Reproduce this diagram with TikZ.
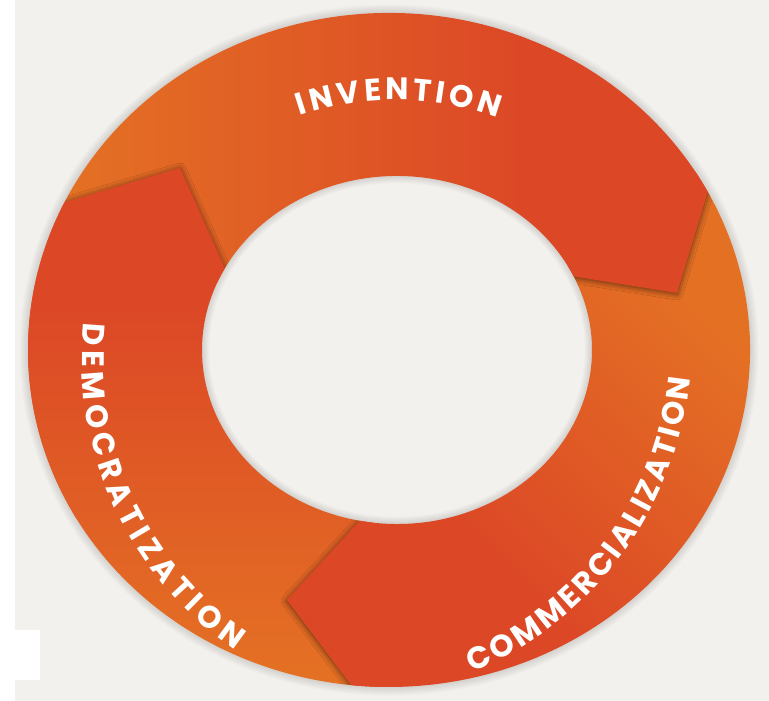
\documentclass[tikz,border=0pt]{standalone}
\usepackage{fontspec}
\setmainfont{Poppins}
\usetikzlibrary{decorations.text,shadows.blur,fadings}
\definecolor{bgc}{RGB}{243,241,238}
\definecolor{orng}{RGB}{228,112,36}
\definecolor{redo}{RGB}{220,72,38}
\pgfdeclarehorizontalshading{segsh}{100bp}{color(0bp)=(orng); color(28bp)=(orng); color(60bp)=(redo); color(100bp)=(redo)}
\newcommand\ringfont{\fontsize{31}{31}\selectfont\bfseries}
\tikzset{
  lbl/.style={decorate, decoration={text along path, text={|\ringfont|#1}, text align={fit to path}, text color=white}},
  hshadow/.style={blur shadow={shadow xshift=0pt, shadow yshift=-1pt, shadow blur radius=6pt, shadow opacity=60}},
  outerarc/.style={x radius=361pt, y radius=337pt},
  innerarc/.style={x radius=195pt, y radius=174pt},
  invsh/.style={shading=segsh, shading angle=0},
  comsh/.style={shading=segsh, shading angle=225},
  demsh/.style={shading=segsh, shading angle=90}
}
\begin{document}
\begin{tikzpicture}[x=1pt,y=1pt]
\useasboundingbox (0,0) rectangle (769,701);
\fill[bgc] (0,0) rectangle (769,701);
\fill[white] (0,0) rectangle (15,701);
\fill[white] (15,21) rectangle (40,71);

\coordinate (CO) at (389,351);
\coordinate (CI) at (397,351);
% head corners
\coordinate (dO) at ([shift={(CO)}]154:361pt and 337pt);
\coordinate (dI) at ([shift={(CI)}]152:195pt and 174pt);
\coordinate (dT) at (180,533);
\coordinate (iO) at ([shift={(CO)}]28:361pt and 337pt);
\coordinate (iI) at ([shift={(CI)}]25:195pt and 174pt);
\coordinate (iT) at (677,408);
\coordinate (cO) at ([shift={(CO)}]-96:361pt and 337pt);
\coordinate (cI) at ([shift={(CI)}]-101:195pt and 174pt);
\coordinate (cT) at (287,101);
% backs of heads (inside own body)
\coordinate (dOb) at ([shift={(CO)}]-150:361pt and 337pt);
\coordinate (iOb) at ([shift={(CO)}]32:361pt and 337pt);
\coordinate (cOb) at ([shift={(CO)}]-92:361pt and 337pt);

% soft glow around ring
\foreach \k in {1,...,6}{
  \pgfmathsetmacro\rox{361+1.4*\k}
  \pgfmathsetmacro\roy{337+1.4*\k}
  \pgfmathsetmacro\rix{195-1.2*\k}
  \pgfmathsetmacro\riy{174-1.2*\k}
  \fill[black, opacity=0.018, even odd rule]
    (CO) ellipse[x radius=\rox pt, y radius=\roy pt]
    (CI) ellipse[x radius=\rix pt, y radius=\riy pt];
}

% bodies
\begin{scope}
  \clip (dO) arc[start angle=154, end angle=28, outerarc] -- (iI)
        arc[start angle=25, end angle=152, innerarc] -- cycle;
  \shade[invsh] (30,380) rectangle (730,701);
\end{scope}
\begin{scope}
  \clip (iO) arc[start angle=28, end angle=-96, outerarc] -- (cI)
        arc[start angle=-101, end angle=25, innerarc] -- cycle;
  \shade[comsh] (280,0) rectangle (760,520);
\end{scope}
\begin{scope}
  \clip (cO) arc[start angle=-96, end angle=-206, outerarc] -- (dI)
        arc[start angle=-208, end angle=-101, innerarc] -- cycle;
  \shade[demsh] (20,0) rectangle (420,560);
\end{scope}

% shadows of heads on the following segment
\begin{scope}
  \clip (iO) arc[start angle=28, end angle=-96, outerarc] -- (cI)
        arc[start angle=-101, end angle=25, innerarc] -- cycle;
  \path[hshadow] (iO) -- (iT) -- (iI) -- cycle;
\end{scope}
\begin{scope}
  \clip (cO) arc[start angle=-96, end angle=-206, outerarc] -- (dI)
        arc[start angle=-208, end angle=-101, innerarc] -- cycle;
  \path[hshadow] (cO) -- (cT) -- (cI) -- cycle;
\end{scope}
\begin{scope}
  \clip (dO) arc[start angle=154, end angle=28, outerarc] -- (iI)
        arc[start angle=25, end angle=152, innerarc] -- cycle;
  \path[hshadow] (dO) -- (dT) -- (dI) -- cycle;
\end{scope}

% heads
\begin{scope}
  \clip (iOb) arc[start angle=32, end angle=28, outerarc] -- (iT) -- (iI)
        arc[start angle=25, end angle=29, innerarc] -- cycle;
  \shade[invsh] (30,380) rectangle (730,701);
\end{scope}
\begin{scope}
  \clip (cOb) arc[start angle=-92, end angle=-96, outerarc] -- (cT) -- (cI)
        arc[start angle=-101, end angle=-97, innerarc] -- cycle;
  \shade[comsh] (280,0) rectangle (760,520);
\end{scope}
\begin{scope}
  \clip (dOb) arc[start angle=-150, end angle=-206, outerarc] -- (dT) -- (dI)
        arc[start angle=-208, end angle=-204, innerarc] -- cycle;
  \shade[demsh] (20,0) rectangle (420,560);
\end{scope}

% labels
\path[lbl=INVENTION] ([shift={(395,301)}]108.5:300pt) arc[start angle=108.5, end angle=70, radius=300pt];
\path[lbl=DEMOCRATIZATION] ([shift={(433,341)}]173.8:351pt) arc[start angle=173.8, end angle=235.7, radius=351pt];
\path[lbl=COMMERCIALIZATION] ([shift={(334,359)}]-67.3:358pt) arc[start angle=-67.3, end angle=-5.8, radius=358pt];
\end{tikzpicture}
\end{document}
